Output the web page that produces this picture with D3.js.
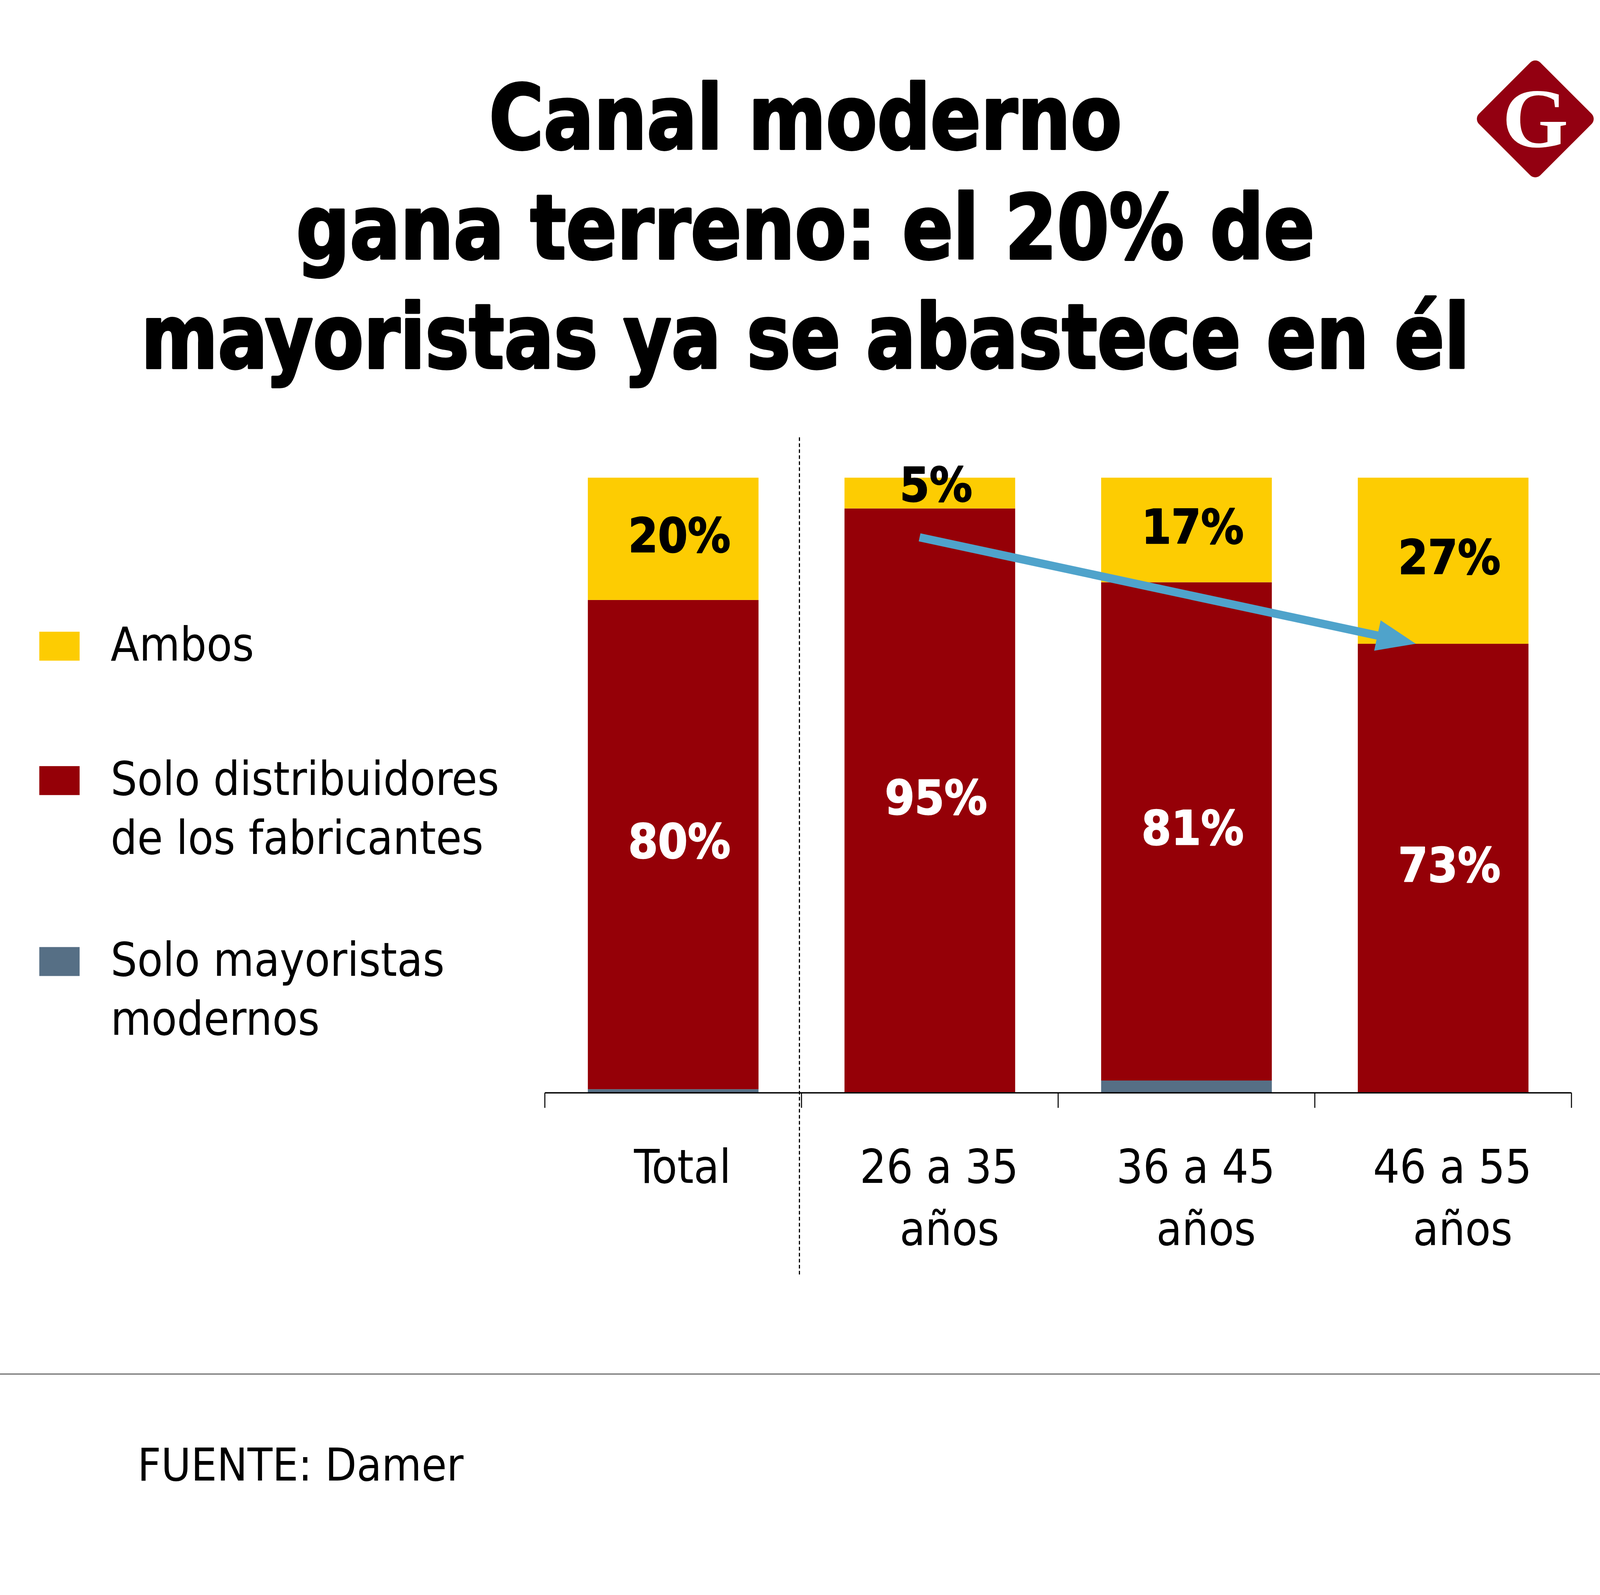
<!DOCTYPE html>
<html lang="es">
<head>
  <meta charset="UTF-8">
  <title>Canal moderno gana terreno</title>
  <script src="https://d3js.org/d3.v7.min.js"></script>
  <style>
    html, body {
      margin: 0;
      background: #fff;
    }

    svg {
      display: block;
    }

    .cond {
      font-family: "DejaVu Sans Condensed", "DejaVu Sans", sans-serif;
      font-stretch: condensed;
    }

    .title {
      font-weight: bold;
      font-size: 86px;
      fill: #000;
      stroke: #000;
      stroke-width: 2.2px;
      stroke-linejoin: round;
      text-anchor: middle;
    }

    .value {
      font-weight: bold;
      font-size: 46px;
      text-anchor: middle;
      dominant-baseline: central;
      stroke-width: 0.9px;
      stroke-linejoin: round;
    }

    .legend-text, .cat-label, .source {
      font-size: 45px;
      fill: #000;
    }
  </style>
</head>
<body>
  <div id="chart"></div>

  <script>
    // --- data ---
    const titleLines = ["Canal moderno", "gana terreno: el 20% de", "mayoristas ya se abastece en él"];
    const categories = ["Total", "26 a 35 años", "36 a 45 años", "46 a 55 años"];
    const categoryLines = [["Total"], ["26 a 35", "años"], ["36 a 45", "años"], ["46 a 55", "años"]];
    const seriesKeys = ["mayoristas", "distribuidores", "ambos"]; // bottom to top
    const mayoristas = [0.6, 0, 2, 0];
    const distribuidores = [80, 95, 81, 73];
    const ambos = [20, 5, 17, 27];
    const legendKeys = ["ambos", "distribuidores", "mayoristas"];
    const legendLabels = [["Ambos"], ["Solo distribuidores", "de los fabricantes"], ["Solo mayoristas", "modernos"]];
    const source = "FUENTE: Damer";
    // arrow annotation: from inside the 26-35 bar down to the top of the red 46-55 segment
    const arrowFrom = { category: "26 a 35 años", along: 0.44, share: 0.903 };
    const arrowTo = { category: "46 a 55 años", along: 0.34, share: 0.73 };

    const W = 1568, H = 1542.7;
    const colors = { ambos: "#fdcc02", distribuidores: "#950007", mayoristas: "#566f85" };
    const valueColor = { ambos: "#000", distribuidores: "#fff" };

    const svg = d3.select("#chart")
      .append("svg")
      .attr("width", 4150)
      .attr("height", 4083)
      .attr("viewBox", `0 0 ${W} ${H}`);

    // Title (fitted to the original line widths)
    const titleWidths = [612, 985, 1285];
    svg.selectAll("text.title")
      .data(titleLines)
      .enter()
      .append("text")
      .attr("class", "title cond")
      .attr("x", 779)
      .attr("y", (d, i) => 144 + i * 106)
      .attr("textLength", (d, i) => titleWidths[i])
      .attr("lengthAdjust", "spacingAndGlyphs")
      .text(d => d);

    // Logo
    const logo = svg.append("g").attr("transform", "translate(1485,115)");
    logo.append("rect")
      .attr("x", -42).attr("y", -42)
      .attr("width", 84).attr("height", 84)
      .attr("rx", 7)
      .attr("transform", "rotate(45)")
      .attr("fill", "#930011");
    logo.append("text")
      .attr("y", 27)
      .attr("text-anchor", "middle")
      .style("font-family", "'Liberation Serif', 'DejaVu Serif', serif")
      .style("font-weight", "bold")
      .style("font-size", "82px")
      .attr("fill", "#fff")
      .text("G");

    // Scales
    const x = d3.scaleBand()
      .domain(categories)
      .range([527, 1520])
      .paddingInner(0.335)
      .paddingOuter(0.1675);

    const y = d3.scaleLinear().domain([0, 1]).range([1057, 462]);

    const rows = categories.map((c, i) => ({
      category: c,
      mayoristas: mayoristas[i],
      distribuidores: distribuidores[i],
      ambos: ambos[i]
    }));

    const stacked = d3.stack().keys(seriesKeys).offset(d3.stackOffsetExpand)(rows);

    // Bars
    const layers = svg.selectAll("g.layer")
      .data(stacked)
      .enter()
      .append("g")
      .attr("class", "layer")
      .attr("fill", d => colors[d.key]);

    layers.selectAll("rect")
      .data(d => d)
      .enter()
      .append("rect")
      .attr("x", d => x(d.data.category))
      .attr("y", d => y(d[1]))
      .attr("width", x.bandwidth())
      .attr("height", d => y(d[0]) - y(d[1]));

    // Value labels (small segments: label rides a bit above the middle)
    stacked.filter(s => s.key !== "mayoristas").forEach(s => {
      svg.selectAll(null)
        .data(s)
        .enter()
        .append("text")
        .attr("class", "value cond")
        .attr("x", d => x(d.data.category) + x.bandwidth() / 2 + 6)
        .attr("y", d => {
          const h = y(d[0]) - y(d[1]);
          return (y(d[0]) + y(d[1])) / 2 - (h < 40 ? 8 : 3);
        })
        .attr("fill", valueColor[s.key])
        .attr("stroke", valueColor[s.key])
        .text(d => d.data[s.key] + "%");
    });

    // Arrow
    const p0 = [x(arrowFrom.category) + x.bandwidth() * arrowFrom.along, y(arrowFrom.share)];
    const p1 = [x(arrowTo.category) + x.bandwidth() * arrowTo.along, y(arrowTo.share)];
    const len = Math.hypot(p1[0] - p0[0], p1[1] - p0[1]);
    const ux = (p1[0] - p0[0]) / len, uy = (p1[1] - p0[1]) / len;
    const px = -uy, py = ux;
    const headLen = 38, headHalf = 15, shaftHalf = 4;
    const base = [p1[0] - ux * headLen, p1[1] - uy * headLen];
    const pt = (p, k) => [p[0] + px * k, p[1] + py * k];
    svg.append("path")
      .attr("d", d3.line()([
        pt(p0, shaftHalf), pt(base, shaftHalf), pt(base, headHalf), p1,
        pt(base, -headHalf), pt(base, -shaftHalf), pt(p0, -shaftHalf)
      ]) + "Z")
      .attr("fill", "#4fa3cb");

    // Axis line with ticks at band boundaries
    const bounds = categories.map(c => x(c) - x.step() * x.paddingInner() / 2);
    bounds[0] = x.range()[0];
    bounds.push(x.range()[1]);
    svg.append("line")
      .attr("x1", x.range()[0]).attr("x2", x.range()[1])
      .attr("y1", y(0)).attr("y2", y(0))
      .attr("stroke", "#000").attr("stroke-width", 1.3);
    svg.selectAll("line.tick")
      .data(bounds)
      .enter()
      .append("line")
      .attr("class", "tick")
      .attr("x1", d => d).attr("x2", d => d)
      .attr("y1", y(0)).attr("y2", y(0) + 14.5)
      .attr("stroke", "#000").attr("stroke-width", 1);

    // Dotted divider between Total and age groups
    svg.append("line")
      .attr("x1", bounds[1] - 2).attr("x2", bounds[1] - 2)
      .attr("y1", 423).attr("y2", 1235)
      .attr("stroke", "#000")
      .attr("stroke-width", 1.1)
      .attr("stroke-dasharray", "3.5,2.3");

    // Category labels
    const cat = svg.selectAll("text.cat-label")
      .data(categories)
      .enter()
      .append("text")
      .attr("class", "cat-label cond")
      .attr("text-anchor", "middle");
    cat.selectAll("tspan")
      .data((d, i) => categoryLines[i].map((t, j) => ({ t, j, c: d })))
      .enter()
      .append("tspan")
      .attr("x", d => x(d.c) + x.bandwidth() / 2 + (d.j === 0 ? 9 : 19))
      .attr("y", d => 1144 + d.j * 60)
      .text(d => d.t);

    // Legend
    const legendY = [611, 741, 916];
    const legend = svg.selectAll("g.legend")
      .data(legendKeys)
      .enter()
      .append("g")
      .attr("class", "legend")
      .attr("transform", (d, i) => `translate(38,${legendY[i]})`);
    legend.append("rect")
      .attr("width", 39)
      .attr("height", 28)
      .attr("fill", d => colors[d]);
    legend.append("text")
      .attr("class", "legend-text cond")
      .selectAll("tspan")
      .data((d, i) => legendLabels[i])
      .enter()
      .append("tspan")
      .attr("x", 69)
      .attr("y", (d, j) => 28 + j * 57)
      .text(d => d);

    // Footer
    svg.append("line")
      .attr("x1", 0).attr("x2", W)
      .attr("y1", 1329).attr("y2", 1329)
      .attr("stroke", "#777")
      .attr("stroke-width", 1.2);
    svg.append("text")
      .attr("class", "source cond")
      .attr("x", 133)
      .attr("y", 1432)
      .style("font-size", "44px")
      .text(source);
  </script>
</body>
</html>
